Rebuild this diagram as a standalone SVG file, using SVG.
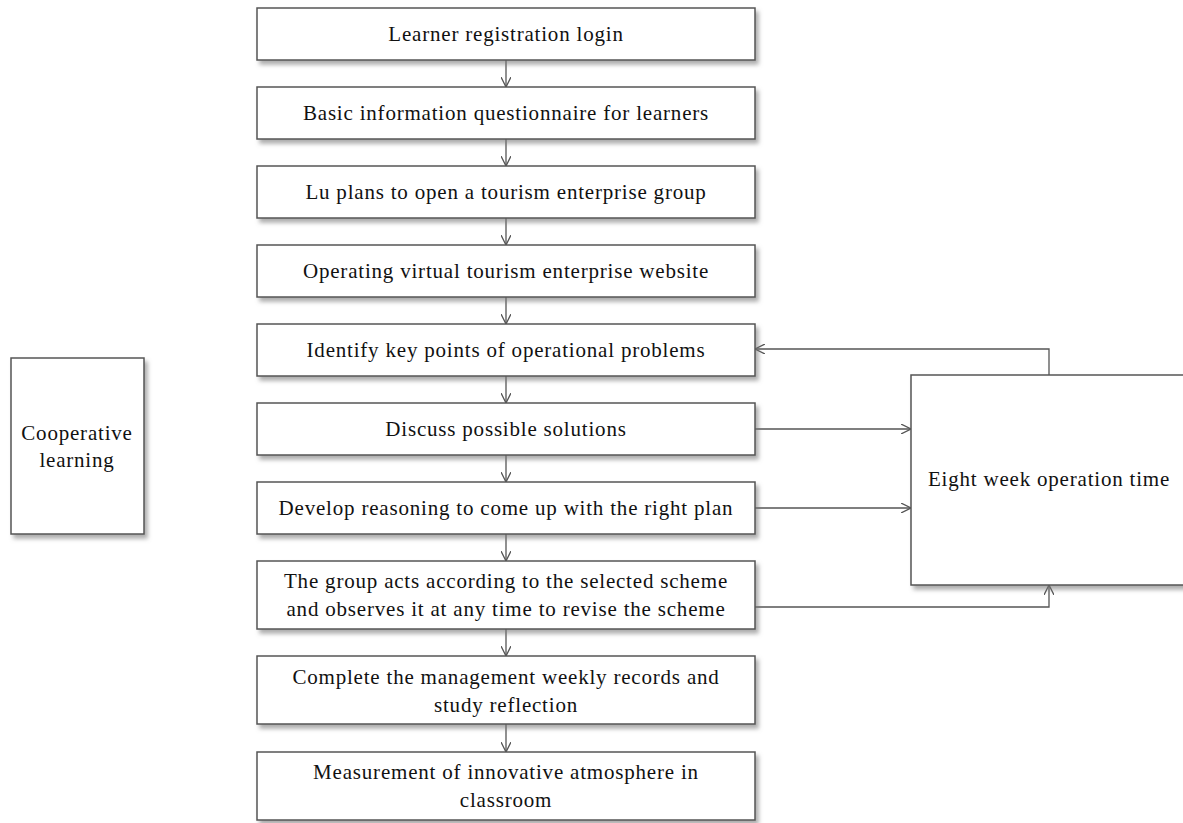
<svg xmlns="http://www.w3.org/2000/svg" width="1183" height="823" viewBox="0 0 1183 823">
<style>
.box{fill:#fff;stroke:#555;stroke-width:1.5;filter:url(#sh)}
.t{font-family:"Liberation Serif","Times New Roman",serif;font-size:21px;letter-spacing:0.8px;fill:#111;text-anchor:middle}
.c{fill:none;stroke:#555;stroke-width:1.3;marker-end:url(#ar)}
</style>
<defs>
<filter id="sh" x="-10%" y="-10%" width="130%" height="140%">
<feDropShadow dx="3" dy="4" stdDeviation="2" flood-color="#777" flood-opacity="0.6"/>
</filter>
<marker id="ar" viewBox="0 0 10 10" refX="10" refY="5" markerWidth="10" markerHeight="10" markerUnits="userSpaceOnUse" orient="auto">
<path d="M0,0 L10,5 L0,10" fill="none" stroke="#555" stroke-width="1.3"/>
</marker>
</defs>
<rect width="1183" height="823" fill="#fff"/>
<g id="connectors">
<line class="c" x1="506" y1="60" x2="506" y2="87"/>
<line class="c" x1="506" y1="139" x2="506" y2="166"/>
<line class="c" x1="506" y1="218" x2="506" y2="245"/>
<line class="c" x1="506" y1="297" x2="506" y2="324"/>
<line class="c" x1="506" y1="376" x2="506" y2="403"/>
<line class="c" x1="506" y1="455" x2="506" y2="482"/>
<line class="c" x1="506" y1="534" x2="506" y2="561"/>
<line class="c" x1="506" y1="629" x2="506" y2="656"/>
<line class="c" x1="506" y1="724" x2="506" y2="752"/>
<polyline class="c" points="1049,375 1049,349 755,349"/>
<line class="c" x1="755" y1="429" x2="911" y2="429"/>
<line class="c" x1="755" y1="508" x2="911" y2="508"/>
<polyline class="c" points="755,607 1049,607 1049,585"/>
</g>
<g id="n1"><rect class="box" x="257" y="8" width="498" height="52"/><text class="t" x="506" y="41">Learner registration login</text></g>
<g id="n2"><rect class="box" x="257" y="87" width="498" height="52"/><text class="t" x="506" y="120">Basic information questionnaire for learners</text></g>
<g id="n3"><rect class="box" x="257" y="166" width="498" height="52"/><text class="t" x="506" y="199">Lu plans to open a tourism enterprise group</text></g>
<g id="n4"><rect class="box" x="257" y="245" width="498" height="52"/><text class="t" x="506" y="278">Operating virtual tourism enterprise website</text></g>
<g id="n5"><rect class="box" x="257" y="324" width="498" height="52"/><text class="t" x="506" y="357">Identify key points of operational problems</text></g>
<g id="n6"><rect class="box" x="257" y="403" width="498" height="52"/><text class="t" x="506" y="436">Discuss possible solutions</text></g>
<g id="n7"><rect class="box" x="257" y="482" width="498" height="52"/><text class="t" x="506" y="515">Develop reasoning to come up with the right plan</text></g>
<g id="n8"><rect class="box" x="257" y="561" width="498" height="68"/><text class="t" x="506" y="588">The group acts according to the selected scheme</text><text class="t" x="506" y="616">and observes it at any time to revise the scheme</text></g>
<g id="n9"><rect class="box" x="257" y="656" width="498" height="68"/><text class="t" x="506" y="684">Complete the management weekly records and</text><text class="t" x="506" y="712">study reflection</text></g>
<g id="n10"><rect class="box" x="257" y="752" width="498" height="68"/><text class="t" x="506" y="779">Measurement of innovative atmosphere in</text><text class="t" x="506" y="807">classroom</text></g>
<g id="n11"><rect class="box" x="911" y="375" width="280" height="210"/><text class="t" x="1049" y="486">Eight week operation time</text></g>
<g id="n12"><rect class="box" x="11" y="358" width="133" height="176"/><text class="t" x="77" y="440">Cooperative</text><text class="t" x="77" y="467">learning</text></g>
</svg>
